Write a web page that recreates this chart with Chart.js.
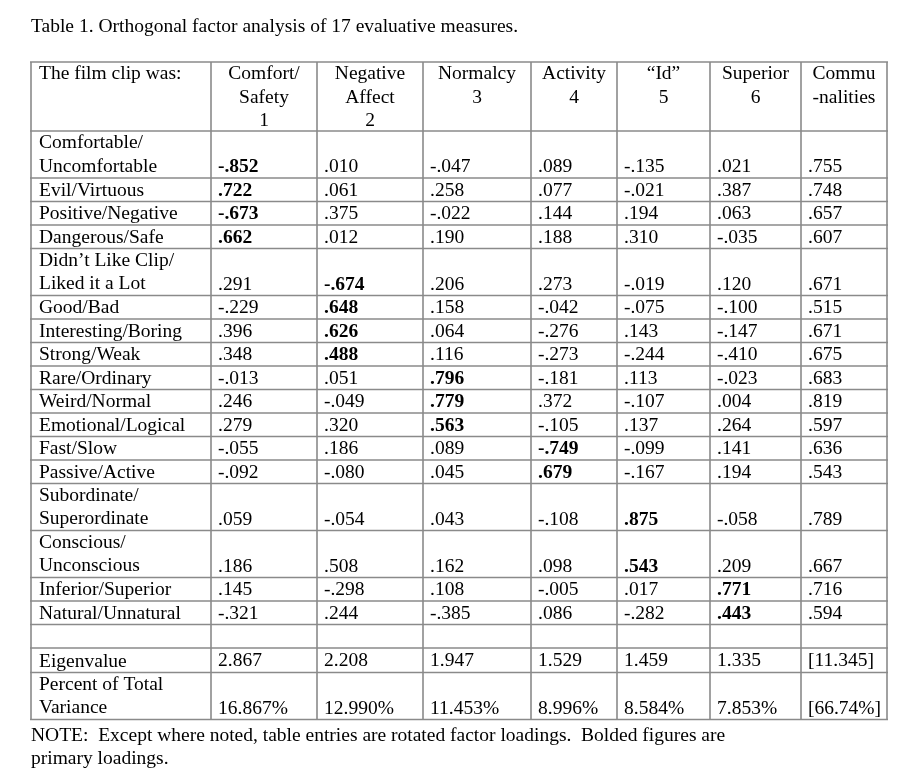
<!DOCTYPE html>
<html>
<head>
<meta charset="utf-8">
<script src="https://cdn.jsdelivr.net/npm/chart.js@4/dist/chart.umd.min.js"></script>
<style>
  html, body { margin: 0; padding: 0; background: #fff; }
  #wrap { width: 898px; height: 781px; }
</style>
</head>
<body>
<div id="wrap"><canvas id="tbl"></canvas></div>
<script>
// Table data
const title = 'Table 1. Orthogonal factor analysis of 17 evaluative measures.';
const headers = [['The film clip was:'], ['Comfort/', 'Safety', '1'], ['Negative', 'Affect', '2'],
  ['Normalcy', '3'], ['Activity', '4'], ['\u201CId\u201D', '5'], ['Superior', '6'], ['Commu', '-nalities']];
const measures = [['Comfortable/', 'Uncomfortable'], ['Evil/Virtuous'], ['Positive/Negative'], ['Dangerous/Safe'],
  ['Didn\u2019t Like Clip/', 'Liked it a Lot'], ['Good/Bad'], ['Interesting/Boring'], ['Strong/Weak'],
  ['Rare/Ordinary'], ['Weird/Normal'], ['Emotional/Logical'], ['Fast/Slow'], ['Passive/Active'],
  ['Subordinate/', 'Superordinate'], ['Conscious/', 'Unconscious'], ['Inferior/Superior'], ['Natural/Unnatural']];
const factor1 = ['-.852', '.722', '-.673', '.662', '.291', '-.229', '.396', '.348', '-.013', '.246', '.279', '-.055', '-.092', '.059', '.186', '.145', '-.321'];
const factor2 = ['.010', '.061', '.375', '.012', '-.674', '.648', '.626', '.488', '.051', '-.049', '.320', '.186', '-.080', '-.054', '.508', '-.298', '.244'];
const factor3 = ['-.047', '.258', '-.022', '.190', '.206', '.158', '.064', '.116', '.796', '.779', '.563', '.089', '.045', '.043', '.162', '.108', '-.385'];
const factor4 = ['.089', '.077', '.144', '.188', '.273', '-.042', '-.276', '-.273', '-.181', '.372', '-.105', '-.749', '.679', '-.108', '.098', '-.005', '.086'];
const factor5 = ['-.135', '-.021', '.194', '.310', '-.019', '-.075', '.143', '-.244', '.113', '-.107', '.137', '-.099', '-.167', '.875', '.543', '.017', '-.282'];
const factor6 = ['.021', '.387', '.063', '-.035', '.120', '-.100', '-.147', '-.410', '-.023', '.004', '.264', '.141', '.194', '-.058', '.209', '.771', '.443'];
const communalities = ['.755', '.748', '.657', '.607', '.671', '.515', '.671', '.675', '.683', '.819', '.597', '.636', '.543', '.789', '.667', '.716', '.594'];
// which factor (1-6) is bolded as primary loading for each measure
const primary = [1, 1, 1, 1, 2, 2, 2, 2, 3, 3, 3, 4, 4, 5, 5, 6, 6];
const eigenvalues = ['2.867', '2.208', '1.947', '1.529', '1.459', '1.335', '[11.345]'];
const percents = ['16.867%', '12.990%', '11.453%', '8.996%', '8.584%', '7.853%', '[66.74%]'];
const note = ['NOTE:  Except where noted, table entries are rotated factor loadings.  Bolded figures are', 'primary loadings.'];

// layout (page units)
const colLines = [31, 211, 317, 423, 531, 617, 710, 801, 887];
const lineH = 23.5;
const tableTop = 62, headerBottom = 131;

// row boundaries
const rowsAll = measures.map(m => m.length).concat([1, 1, 2]);
const rowEdges = [headerBottom];
rowsAll.forEach((n, i) => {
  let h = n === 2 ? 47 : lineH;
  if (i === measures.length + 1) h = 24.5;
  rowEdges.push(rowEdges[rowEdges.length - 1] + h);
});

const valueCols = [factor1, factor2, factor3, factor4, factor5, factor6, communalities];
const datasets = valueCols.map((col, c) => ({
  label: headers[c + 1].join(' '),
  data: col.map((v, r) => ({ x: colLines[c + 1] + 7, y: rowEdges[r + 1] - 11, v: v, bold: primary[r] === c + 1 }))
    .concat([
      { x: colLines[c + 1] + 7, y: rowEdges[measures.length + 2] - 11.5, v: eigenvalues[c], bold: false },
      { x: colLines[c + 1] + 7, y: rowEdges[measures.length + 3] - 11, v: percents[c], bold: false }
    ]),
  pointRadius: 0
}));

const FONT = '"Liberation Serif", "DejaVu Serif", serif';
const SIZE = '19.5px ';

const tablePlugin = {
  id: 'tablePlugin',
  afterDraw(chart) {
    const ctx = chart.ctx, sx = chart.scales.x, sy = chart.scales.y;
    const X = v => sx.getPixelForValue(v), Y = v => sy.getPixelForValue(v);
    ctx.save();
    ctx.fillStyle = '#000';
    ctx.textBaseline = 'middle';
    ctx.font = SIZE + FONT;
    ctx.textAlign = 'left';
    ctx.fillText(title, X(31), Y(27));
    // grid
    ctx.strokeStyle = '#8a8a8a';
    ctx.lineWidth = 1.6;
    const bottom = rowEdges[rowEdges.length - 1];
    [tableTop].concat(rowEdges).forEach(y => {
      ctx.beginPath(); ctx.moveTo(X(colLines[0]) - 1, Y(y)); ctx.lineTo(X(colLines[colLines.length - 1]) + 1, Y(y)); ctx.stroke();
    });
    colLines.forEach(x => {
      ctx.beginPath(); ctx.moveTo(X(x), Y(tableTop)); ctx.lineTo(X(x), Y(bottom)); ctx.stroke();
    });
    // headers
    headers.forEach((h, c) => {
      h.forEach((t, i) => {
        const y = Y(tableTop + 12 + i * lineH);
        if (c === 0) { ctx.textAlign = 'left'; ctx.fillText(t, X(colLines[0] + 8), y); }
        else { ctx.textAlign = 'center'; ctx.fillText(t, X((colLines[c] + colLines[c + 1]) / 2), y); }
      });
    });
    // row labels
    ctx.textAlign = 'left';
    const labels = measures.concat([[''], ['Eigenvalue'], ['Percent of Total', 'Variance']]);
    labels.forEach((m, r) => {
      m.forEach((t, i) => {
        const y = m.length === 2 ? rowEdges[r] + 12 + i * lineH : rowEdges[r + 1] - 11;
        ctx.fillText(t, X(colLines[0] + 8), Y(y));
      });
    });
    // values from dataset points
    chart.data.datasets.forEach((ds, d) => {
      const meta = chart.getDatasetMeta(d);
      meta.data.forEach((pt, i) => {
        const p = ds.data[i];
        ctx.font = (p.bold ? 'bold ' : '') + SIZE + FONT;
        ctx.fillText(p.v, pt.x, pt.y);
      });
    });
    ctx.font = SIZE + FONT;
    note.forEach((t, i) => ctx.fillText(t, X(31), Y(736 + i * 23)));
    ctx.restore();
  }
};

new Chart(document.getElementById('tbl'), {
  type: 'scatter',
  data: { datasets: datasets },
  options: {
    responsive: true,
    maintainAspectRatio: false,
    animation: false,
    layout: { padding: 0 },
    plugins: { legend: { display: false }, tooltip: { enabled: false } },
    scales: {
      x: { type: 'linear', min: 0, max: 898, display: false },
      y: { type: 'linear', min: 0, max: 781, reverse: true, display: false }
    }
  },
  plugins: [tablePlugin]
});
</script>
</body>
</html>
